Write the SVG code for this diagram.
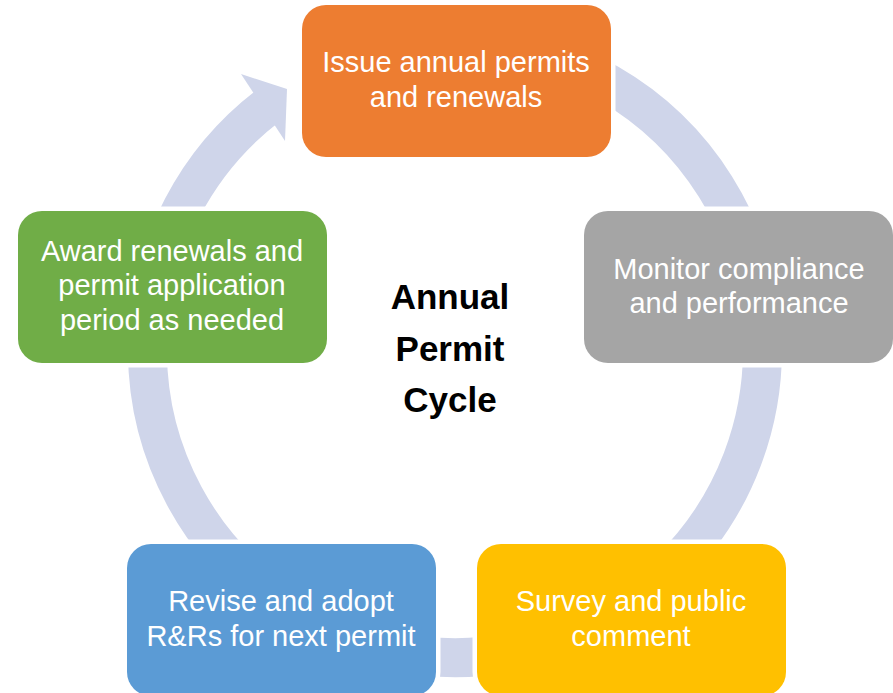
<svg xmlns="http://www.w3.org/2000/svg" width="893" height="693" viewBox="0 0 893 693">
  <style>
    .band { fill: none; stroke: #CFD5EA; stroke-width: 39; }
    .head { fill: #CFD5EA; }
    .node { stroke: #FFFFFF; stroke-width: 9; paint-order: stroke fill; }
    .lbl { font-family: "Liberation Sans", Arial, sans-serif; font-size: 29px; fill: #FFFFFF; text-anchor: middle; }
    .title { font-family: "Liberation Sans", Arial, sans-serif; font-size: 35px; font-weight: bold; fill: #000000; text-anchor: middle; }
  </style>
  <rect width="893" height="693" fill="#FFFFFF"/>
  <g id="connectors">
    <path class="band" d="M 481.8 43.7 A 307.5 307.5 0 1 1 267.8 106.0"/>
    <polygon class="head" points="241,74 287,89 285,141"/>
  </g>
  <g id="node-issue">
    <rect class="node" x="302" y="5" width="309" height="152" rx="24" fill="#ED7D31"/>
    <text class="lbl" x="456" y="72">Issue annual permits</text>
    <text class="lbl" x="456" y="107">and renewals</text>
  </g>
  <g id="node-monitor">
    <rect class="node" x="584" y="211" width="309" height="152" rx="24" fill="#A5A5A5"/>
    <text class="lbl" x="739" y="279">Monitor compliance</text>
    <text class="lbl" x="739" y="313">and performance</text>
  </g>
  <g id="node-survey">
    <rect class="node" x="477" y="544" width="309" height="152" rx="24" fill="#FFC000"/>
    <text class="lbl" x="631" y="611">Survey and public</text>
    <text class="lbl" x="631" y="646">comment</text>
  </g>
  <g id="node-revise">
    <rect class="node" x="127" y="544" width="309" height="152" rx="24" fill="#5B9BD5"/>
    <text class="lbl" x="281" y="611">Revise and adopt</text>
    <text class="lbl" x="281" y="646">R&amp;Rs for next permit</text>
  </g>
  <g id="node-award">
    <rect class="node" x="18" y="211" width="309" height="152" rx="24" fill="#70AD47"/>
    <text class="lbl" x="172" y="261">Award renewals and</text>
    <text class="lbl" x="172" y="295">permit application</text>
    <text class="lbl" x="172" y="330">period as needed</text>
  </g>
  <g id="title">
    <text class="title" x="450" y="309">Annual</text>
    <text class="title" x="450" y="361">Permit</text>
    <text class="title" x="450" y="412">Cycle</text>
  </g>
</svg>
